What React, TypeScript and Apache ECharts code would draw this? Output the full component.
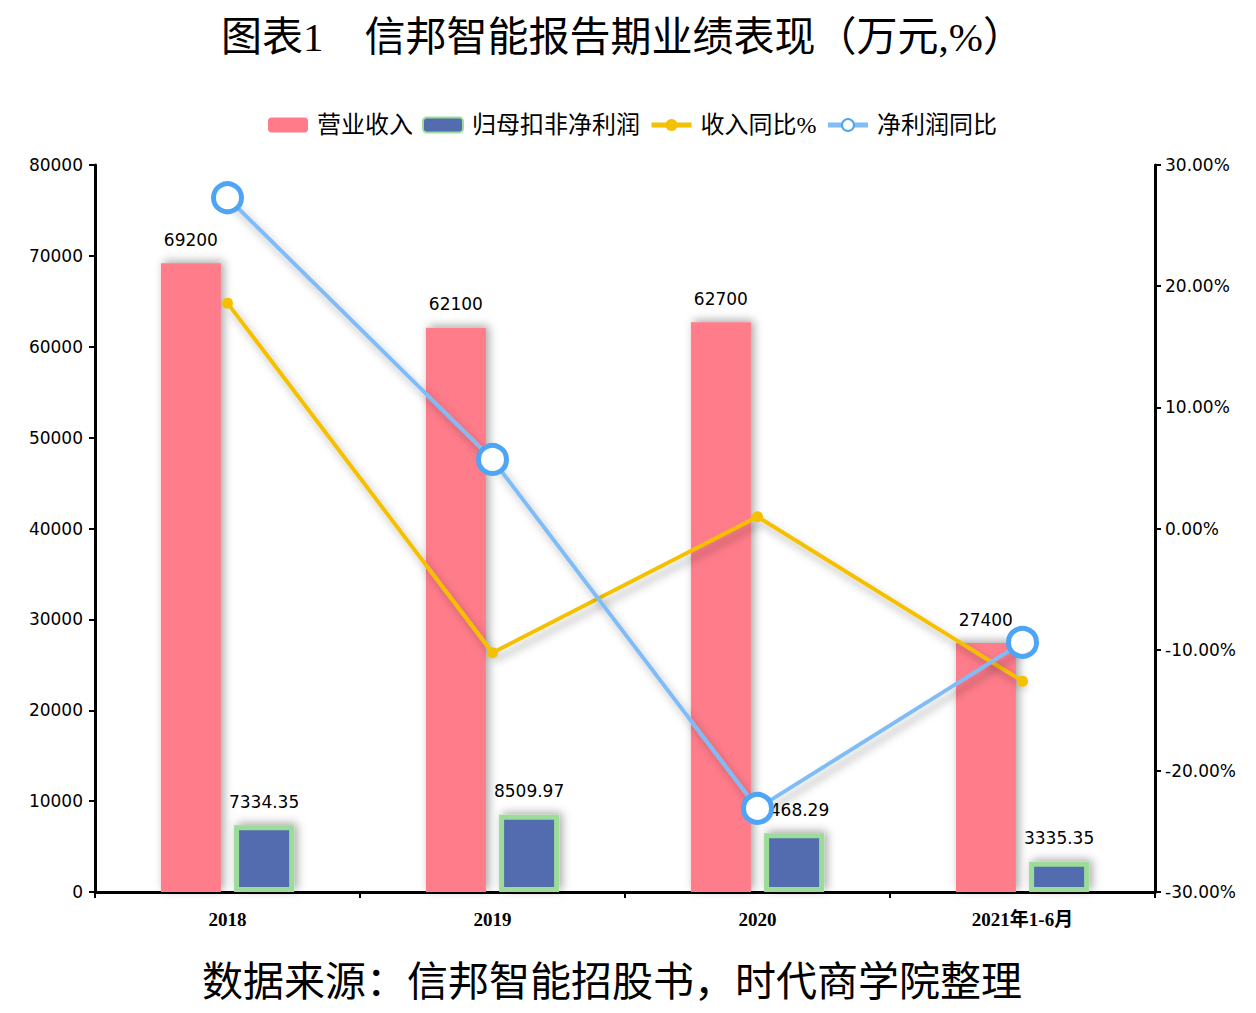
import React, { useEffect, useRef } from 'react';
import * as echarts from 'echarts';

const categories = ['2018', '2019', '2020', '2021年1-6月'];
const revenue = [69200, 62100, 62700, 27400];
const netProfit = [7334.35, 8509.97, 6468.29, 3335.35];
const revenueYoy = [18.6, -10.26, 0.97, -12.6];
const profitYoy = [27.3, 5.7, -23.1, -9.4];

const SERIF = '"Liberation Serif", "DejaVu Serif", "Noto Sans CJK SC", serif';
const SANS = '"DejaVu Sans", "Noto Sans", sans-serif';

const App: React.FC = () => {
  const chartRef = useRef<HTMLDivElement>(null);

  useEffect(() => {
    document.body.style.margin = '0';
    if (!chartRef.current) return;
    const chart = echarts.init(chartRef.current, undefined, { renderer: 'svg' });

    const barShadow = {
      shadowBlur: 10,
      shadowColor: 'rgba(0,0,0,0.35)',
      shadowOffsetX: 3,
      shadowOffsetY: -2,
    };
    const lineShadow = {
      shadowBlur: 8,
      shadowColor: 'rgba(0,0,0,0.3)',
      shadowOffsetX: 4,
      shadowOffsetY: 6,
    };
    const barLabel = {
      show: true,
      position: 'top',
      distance: 15,
      color: '#000',
      fontSize: 17,
      fontFamily: SANS,
    };

    chart.setOption({
      animation: false,
      backgroundColor: '#fff',
      title: [
        {
          text: '图表1　信邦智能报告期业绩表现（万元,%）',
          left: 216,
          top: 11,
          textStyle: { fontFamily: SERIF, fontSize: 41, fontWeight: 'normal', color: '#000' },
        },
        {
          text: '数据来源：信邦智能招股书，时代商学院整理',
          left: 197,
          top: 956,
          textStyle: { fontFamily: SERIF, fontSize: 41, fontWeight: 'normal', color: '#000' },
        },
      ],
      legend: {
        top: 108,
        left: 263,
        itemWidth: 40,
        itemHeight: 15,
        itemGap: 9,
        textStyle: { fontFamily: SERIF, fontSize: 24, color: '#000', padding: [0, 0, 0, 4] },
        data: [
          '营业收入',
          '归母扣非净利润',
          { name: '收入同比%', lineStyle: { width: 5 } },
          { name: '净利润同比', lineStyle: { width: 5 } },
        ],
      },
      grid: { left: 95, right: 101, top: 165, bottom: 121 },
      xAxis: {
        type: 'category',
        data: categories,
        axisLine: { lineStyle: { color: '#000', width: 3 } },
        axisTick: { show: true, length: 6, lineStyle: { color: '#000', width: 2 } },
        axisLabel: { color: '#000', fontSize: 19, fontWeight: 'bold', fontFamily: SERIF, margin: 18 },
      },
      yAxis: [
        {
          type: 'value',
          min: 0,
          max: 80000,
          interval: 10000,
          splitLine: { show: false },
          axisLine: { show: true, lineStyle: { color: '#000', width: 3 } },
          axisTick: { show: true, length: 6, lineStyle: { color: '#000', width: 2 } },
          axisLabel: { color: '#000', fontSize: 17, fontFamily: SANS, margin: 12, formatter: (v: number) => String(v) },
        },
        {
          type: 'value',
          min: -30,
          max: 30,
          interval: 10,
          splitLine: { show: false },
          axisLine: { show: true, lineStyle: { color: '#000', width: 3 } },
          axisTick: { show: true, length: 6, lineStyle: { color: '#000', width: 2 } },
          axisLabel: {
            color: '#000',
            fontSize: 17,
            fontFamily: SANS,
            margin: 10,
            formatter: (v: number) => v.toFixed(2) + '%',
          },
        },
      ],
      series: [
        {
          name: '营业收入',
          type: 'bar',
          data: revenue,
          barWidth: 60,
          barGap: '22%',
          itemStyle: { color: '#ff7b8a', ...barShadow },
          label: barLabel,
        },
        {
          name: '归母扣非净利润',
          type: 'bar',
          data: netProfit,
          barWidth: 60,
          itemStyle: { color: '#526caf', borderColor: '#9bdc98', borderWidth: 5, ...barShadow },
          label: barLabel,
        },
        {
          name: '收入同比%',
          type: 'line',
          yAxisIndex: 1,
          data: revenueYoy,
          symbol: 'circle',
          symbolSize: 11,
          itemStyle: { color: '#f5c000' },
          lineStyle: { color: '#f5c000', width: 4, ...lineShadow },
          z: 3,
        },
        {
          name: '净利润同比',
          type: 'line',
          yAxisIndex: 1,
          data: profitYoy,
          symbol: 'circle',
          symbolSize: 28,
          itemStyle: { color: '#fff', borderColor: '#4ea4f5', borderWidth: 5 },
          lineStyle: { color: '#80bdf8', width: 4, ...lineShadow },
          z: 4,
        },
      ],
    });

    return () => chart.dispose();
  }, []);

  return <div ref={chartRef} style={{ width: 1256, height: 1013 }} />;
};

export default App;
